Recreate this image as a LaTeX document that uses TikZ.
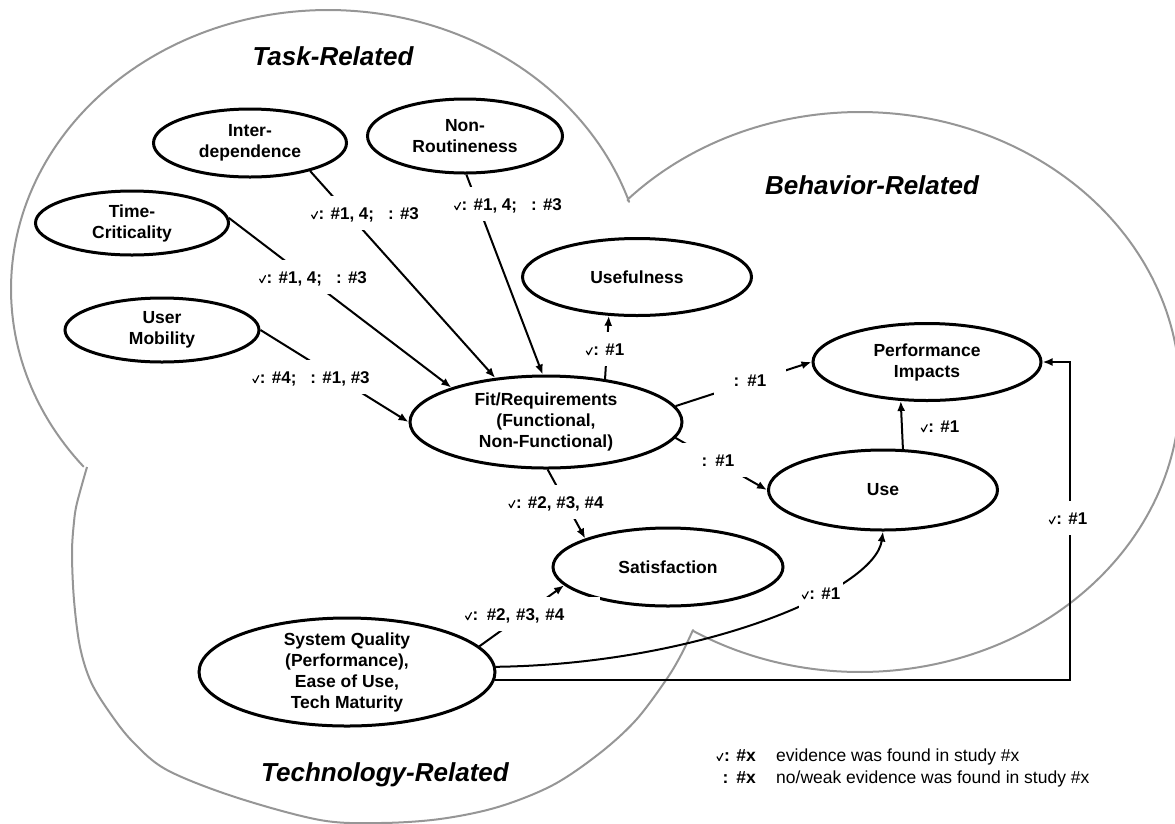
\documentclass[tikz,border=0pt]{standalone}
\usepackage{fontspec}
\setmainfont{Liberation Sans}
\usetikzlibrary{arrows.meta,shapes.geometric}

% small check mark drawn inline
\newcommand{\chkmk}{\tikz[baseline=0pt]{\draw[draw=black, fill=none, line width=1.2pt, x=1pt, y=1pt,
  line cap=round, line join=round] (0.4,4.2) -- (2.5,0.6) -- (6.2,7.6);}\hspace{0.6pt}}
\newcommand{\nodefnt}{\fontsize{17.5}{21}\selectfont\bfseries}
\newcommand{\labfnt}{\fontsize{17}{20}\selectfont\bfseries}
\newcommand{\ttlfnt}{\fontsize{26}{30}\selectfont\bfseries\itshape}
\newcommand{\legfnt}{\fontsize{17.5}{21}\selectfont}
\newcommand{\legbfnt}{\fontsize{17.5}{21}\selectfont\bfseries}

\definecolor{lobegray}{RGB}{150,150,150}

\begin{document}
\begin{tikzpicture}[x=1pt,y=-1pt,
  construct/.style={draw, line width=3pt, ellipse, inner sep=0pt, align=center, font=\nodefnt},
  link/.style={line width=2pt, -{Latex[length=10pt,width=8pt]}},
  evid/.style={fill=white, inner xsep=3pt, inner ysep=0pt, minimum height=34pt,
               text height=12.5pt, text depth=0pt, font=\labfnt},
  region/.style={anchor=base, inner sep=0pt, font=\ttlfnt},
  outline/.style={draw=lobegray, line width=2pt, line join=round}]

\useasboundingbox (0,0) rectangle (1175,823);
\clip (0,0) rectangle (1175,823);

% three-lobed boundary: task (top left), behavior (right), technology (bottom left)
\draw[outline]
  plot[domain=140.4:341.8, samples=140, variable=\t] ({328+317*cos(\t)},{289+279*sin(\t)})
  -- plot[domain=223.4:481.5, samples=180, variable=\t] ({860+320*cos(\t)},{392+280*sin(\t)})
  -- plot[smooth, tension=0.55] coordinates {(693,630) (681,655) (666,680) (636,720) (600,753)
       (553,785) (498,807) (440,819) (380,823) (320,820) (235,797) (167,770) (133,742)
       (110,713) (91,682) (80,647) (74,600) (72,553) (74,522) (77,503) (87,467)};

% region titles
\node[region] (tTask) at (333,65) {Task-Related};
\node[region] (tBeh)  at (872,194) {Behavior-Related};
\node[region] (tTech) at (385,781) {Technology-Related};

% constructs
\node[construct, minimum width=193pt, minimum height=68pt] (inter)  at (250,143) {Inter-\\dependence};
\node[construct, minimum width=195pt, minimum height=74pt] (nonr)   at (465,136) {Non-\\Routineness};
\node[construct, minimum width=193pt, minimum height=64pt] (time)   at (132,223) {Time-\\Criticality};
\node[construct, minimum width=194pt, minimum height=64pt] (user)   at (162,330) {User\\Mobility};
\node[construct, minimum width=272pt, minimum height=92pt] (fit)    at (546,422) {Fit/Requirements\\(Functional,\\Non-Functional)};
\node[construct, minimum width=229pt, minimum height=77pt] (useful) at (637,277) {Usefulness};
\node[construct, minimum width=228pt, minimum height=77pt] (perf)   at (927,362) {Performance\\Impacts};
\node[construct, minimum width=229pt, minimum height=80pt] (use)    at (883,490) {Use};
\node[construct, minimum width=230pt, minimum height=78pt] (sat)    at (668,567) {Satisfaction};
\node[construct, minimum width=296pt, minimum height=108pt, inner ysep=-4pt] (sys) at (347,672)
     {System Quality\\(Performance),\\Ease of Use,\\Tech Maturity};

\coordinate (rturn) at (1070,362);

% relationships
\draw[link] (inter.-25) -- (fit.139);
\draw[link] (nonr.-88) -- (fit.94);
\draw[link] (time.3) -- (fit.160);
\draw[link] (user.east) -- (fit.west);
\draw[link] (fit.36) -- (useful.-126);
\draw[link] (fit.7) -- (perf.west);
\draw[link] (fit.-7) -- (use.west);
\draw[link] (fit.-88) -- (sat.161);
\draw[link] (sys.11) -- (sat.190);
\draw[link] (sys.2) .. controls (700,664) and (875,590) .. (use.south);
\draw[link] (sys.-3) -| (rturn) -- (perf.east);
\draw[link] (use.64) -- (perf.236);

% evidence labels
\node[evid] (l1) at (365,213) {\chkmk: \#1, 4;\hspace{14pt}: \#3};
\node[evid] (l2) at (508,204) {\chkmk: \#1, 4;\hspace{14pt}: \#3};
\node[evid] (l3) at (313,277) {\chkmk: \#1, 4;\hspace{14pt}: \#3};
\node[evid] (l4) at (311,377) {\chkmk: \#4;\hspace{14pt}: \#1, \#3};
\node[evid] (l5) at (605,349) {\chkmk: \#1};
\node[evid, minimum width=72pt] (l6) at (750,380) {:\hspace{8pt}\#1};
\node[evid, minimum width=72pt] (l7) at (718,460) {:\hspace{8pt}\#1};
\node[evid] (l8) at (556,502) {\chkmk: \#2, \#3, \#4};
\node[evid, text width=132pt, align=left] (l9) at (531,614) {\chkmk: \#2, \#3, \#4};
\node[evid] (l10) at (821,593) {\chkmk: \#1};
\node[evid] (l11) at (940,426) {\chkmk: \#1};
\node[evid] (l12) at (1068,518) {\chkmk: \#1};

% key
\node[anchor=base east, inner sep=0pt, font=\legbfnt] (k1) at (756,761) {\chkmk: \#x};
\node[anchor=base west, inner sep=0pt, font=\legfnt]  (k1t) at (776,761) {evidence was found in study \#x};
\node[anchor=base east, inner sep=0pt, font=\legbfnt] (k2) at (756,783) {:\hspace{8pt}\#x};
\node[anchor=base west, inner sep=0pt, font=\legfnt]  (k2t) at (776,783) {no/weak evidence was found in study \#x};
\end{tikzpicture}
\end{document}
